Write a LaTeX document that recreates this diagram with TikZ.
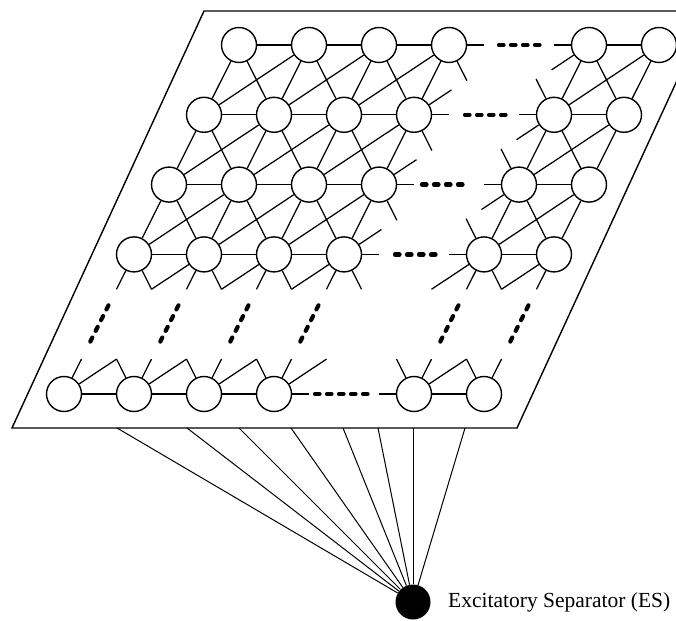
\documentclass[tikz,border=0pt]{standalone}
\usepackage{fontspec}
\setmainfont{Liberation Serif}
\usetikzlibrary{calc}
\newif\ifrealA
\newif\ifrealB
\tikzset{
  neuron/.style={circle, draw, line width=1.4pt, fill=white, minimum size=35pt, inner sep=0pt},
  link/.style={line width=1.25pt},
  gapdots/.style={line width=4.2pt, line cap=round, dash pattern=on 4.5pt off 7.5pt},
  frame/.style={line width=1.4pt},
  fan/.style={line width=1pt},
  esnode/.style={circle, fill=black, minimum size=35pt, inner sep=0pt},
}
% stub from real node #1 toward missing position #2 (row #3), length #4 when in the column gap
\newcommand\nnstub[4]{%
  \ifnum#3=4
    \draw[link] (n-#1) -- ($(n-#1.center)!0.5!(v-#2)$);%
  \else
    \draw[link] (n-#1) -- ($(n-#1.center)!#4!(v-#2)$);%
  \fi}
\newcommand\nnlink[5]{%
  \ifnum#4<0 \else\ifnum#4>6 \else
    \realAtrue\ifnum#1=4 \realAfalse\fi\ifnum#2=4 \realAfalse\fi
    \realBtrue\ifnum#3=4 \realBfalse\fi\ifnum#4=4 \realBfalse\fi
    \ifrealA
      \ifrealB\draw[link] (n-#1-#2) -- (n-#3-#4);%
      \else\nnstub{#1-#2}{#3-#4}{#3}{#5}\fi
    \else
      \ifrealB\nnstub{#3-#4}{#1-#2}{#1}{#5}\fi
    \fi
  \fi\fi}
\begin{document}
\begin{tikzpicture}[x=1pt,y=-1pt]
\useasboundingbox (0,0) rectangle (676,620);
\clip (0,0) rectangle (676,620);
\fill[white] (0,0) rectangle (676,620);
% plane
\coordinate (p1) at (204,11);
\coordinate (p2) at (709,11);
\coordinate (p3) at (517,428);
\coordinate (p4) at (12,428);
\draw[frame] (p1) -- (p2) -- (p3) -- (p4) -- cycle;
% lattice positions
\foreach \i in {0,...,5}
  \foreach \j in {0,...,6}
    \coordinate (v-\i-\j) at ({239+70*\j-35*\i},{45+69.8*\i});
\foreach \i in {0,1,2,3,5}
  \foreach \j in {0,1,2,3,5,6}
    \node[neuron] (n-\i-\j) at (v-\i-\j) {};
% connections
\foreach \i in {0,...,5}
  \foreach \j in {0,...,6} {
    \pgfmathtruncatemacro\ip{\i+1}
    \pgfmathtruncatemacro\jp{\j+1}
    \pgfmathtruncatemacro\jm{\j-1}
    \ifnum\j<6 \nnlink{\i}{\j}{\i}{\jp}{35pt}\fi
    \ifnum\i<5
      \nnlink{\i}{\j}{\ip}{\j}{40pt}
      \nnlink{\i}{\j}{\ip}{\jp}{40pt}
      \nnlink{\i}{\j}{\ip}{\jm}{45pt}
    \fi
  }
% gap dots (missing column)
\draw[gapdots] ([xshift=-20pt]v-0-4) -- ([xshift=24pt]v-0-4);
\draw[gapdots] ([xshift=-19pt]v-1-4) -- ([xshift=25pt]v-1-4);
\draw[gapdots] ([xshift=-27pt]v-2-4) -- ([xshift=17pt]v-2-4);
\draw[gapdots] ([xshift=-19pt]v-3-4) -- ([xshift=25pt]v-3-4);
\draw[gapdots] ([xshift=-29pt]v-5-4) -- ([xshift=27pt]v-5-4);
% gap dots (missing row)
\foreach \j in {0,1,2,3,5,6}
  \draw[gapdots] ($(v-4-\j)!-0.27!(v-5-\j)$) -- ($(v-4-\j)!0.27!(v-5-\j)$);
% excitatory separator
\node[esnode] (es) at (413,602) {};
\node[anchor=base west, inner sep=0pt, font=\fontsize{21.5}{24}\selectfont] (lbl) at (448,607) {Excitatory Separator (ES)};
\foreach \x [count=\k] in {117,187,239,291,343,378,413,465} {
  \coordinate (f\k) at (\x,428);
  \draw[fan] (es) -- (f\k);
}
\end{tikzpicture}
\end{document}
